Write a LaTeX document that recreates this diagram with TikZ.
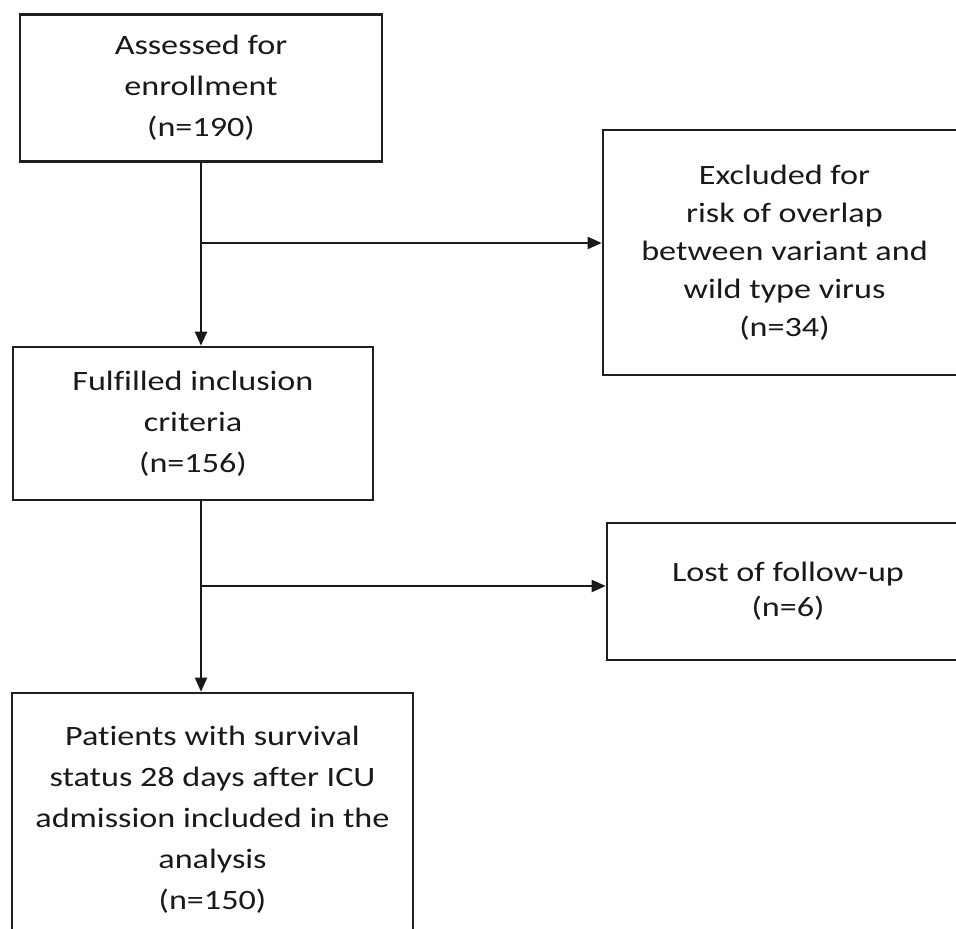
\documentclass[tikz,border=0pt]{standalone}
\usepackage{fontspec}
\setmainfont{Carlito}[FakeStretch=1.22, Ligatures={NoCommon,NoDiscretionary}]
\usetikzlibrary{arrows.meta}
\begin{document}
\begin{tikzpicture}[x=1pt,y=-1pt,
  box/.style={draw=black!88, line width=2.6pt, align=center, inner sep=0pt, text=black!90},
  fa/.style={font=\fontsize{28}{41}\selectfont},
  fb/.style={font=\fontsize{28}{38}\selectfont},
  fc/.style={font=\fontsize{28}{35}\selectfont},
  conn/.style={line width=1.9pt, draw=black!90},
  arr/.style={conn, -{Triangle[length=14pt,width=12pt]}}]
\useasboundingbox (0,0) rectangle (956,929);
\clip (0,0) rectangle (956,929);
\fill[white] (0,0) rectangle (956,929);
\node[box, fa, minimum width=362pt, minimum height=147pt] (b1) at (201,88) {Assessed for\\enrollment\\(n=190)};
\node[box, fb, minimum width=363pt, minimum height=245pt] (b2) at (784.5,252.5) {Excluded for\\risk of overlap\\between variant and\\wild type virus\\(n=34)};
\node[box, fa, minimum width=360pt, minimum height=153pt] (b3) at (193,423.5) {Fulfilled inclusion\\criteria\\(n=156)};
\node[box, fc, minimum width=362pt, minimum height=137pt] (b4) at (788,591.5) {Lost of follow-up\\(n=6)};
\node[box, fa, minimum width=401pt, minimum height=254pt] (b5) at (212.5,820) {Patients with survival\\status 28 days after ICU\\admission included in the\\analysis\\(n=150)};
\coordinate (j1) at (201,243);
\coordinate (j2) at (201,586);
\draw[arr] (j1 |- b1.south) -- (j1 |- b3.north);
\draw[arr] (j1) -- (j1 -| b2.west);
\draw[arr] (j2 |- b3.south) -- (j2 |- b5.north);
\draw[arr] (j2) -- (j2 -| b4.west);
\end{tikzpicture}
\end{document}
